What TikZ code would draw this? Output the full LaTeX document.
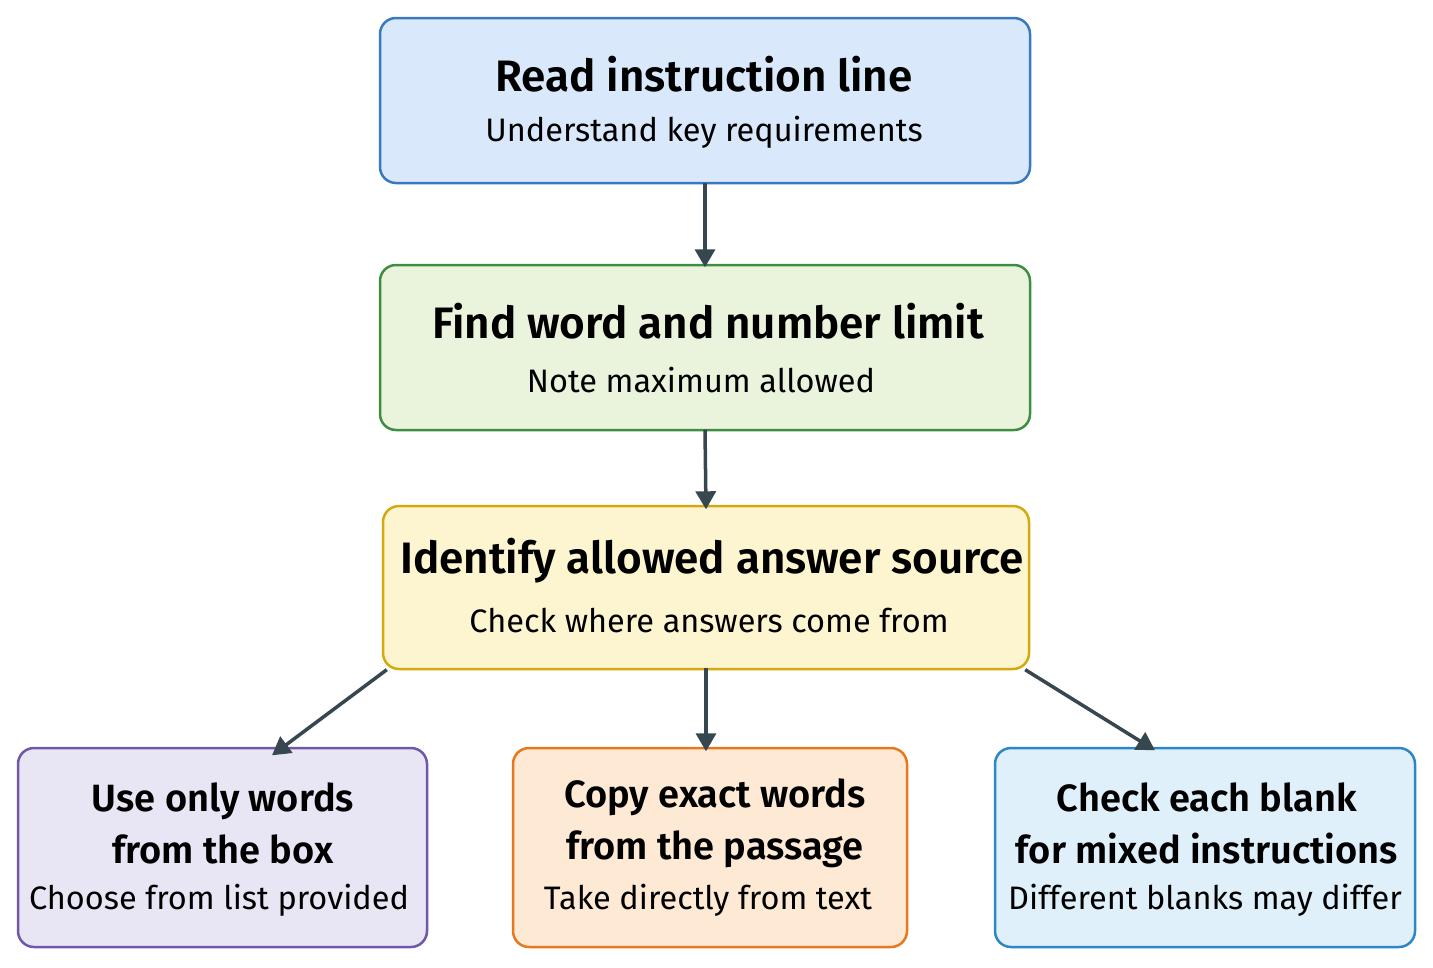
\documentclass[tikz,border=0pt]{standalone}
\usepackage{fontspec}
\setmainfont{Fira Sans}[BoldFont={Fira Sans SemiBold}]
\usetikzlibrary{arrows.meta}
\definecolor{arr}{HTML}{37474F}
\begin{document}
\begin{tikzpicture}[x=1pt,y=-1pt,
box/.style={draw,line width=2.5pt,rounded corners=16pt,inner sep=0pt},
ttl/.style={font=\fontsize{44}{50}\selectfont\bfseries,align=center},
ttlb/.style={font=\fontsize{38}{52}\selectfont\bfseries,align=center},
sub/.style={font=\fontsize{32.5}{36}\selectfont},
ar/.style={draw=arr,line width=3.5pt,-{Triangle[length=18pt,width=20pt]}}]
\useasboundingbox (0,0) rectangle (1433,967);
\definecolor{f1}{HTML}{D9E9FB}\definecolor{d1}{HTML}{3A78C0}
\definecolor{f2}{HTML}{EAF4DD}\definecolor{d2}{HTML}{3E8E41}
\definecolor{f3}{HTML}{FDF5D0}\definecolor{d3}{HTML}{D4A90D}
\definecolor{f4}{HTML}{E8E5F5}\definecolor{d4}{HTML}{7057A8}
\definecolor{f5}{HTML}{FDE9D4}\definecolor{d5}{HTML}{E8781E}
\definecolor{f6}{HTML}{E0F0FB}\definecolor{d6}{HTML}{2D86C6}
\draw[box,fill=f1,draw=d1] (380,18) rectangle (1030,183);
\node (n1) at (705,100) [minimum width=650pt,minimum height=165pt] {};
\draw[box,fill=f2,draw=d2] (380,265) rectangle (1030,430);
\node (n2) at (705,347) [minimum width=650pt,minimum height=165pt] {};
\draw[box,fill=f3,draw=d3] (383,506) rectangle (1029,669);
\node (n3) at (706,587) [minimum width=646pt,minimum height=163pt] {};
\draw[box,fill=f4,draw=d4] (18,748) rectangle (427,947);
\node (n4) at (222,847) [minimum width=409pt,minimum height=199pt] {};
\draw[box,fill=f5,draw=d5] (513,748) rectangle (907,947);
\node (n5) at (710,847) [minimum width=394pt,minimum height=199pt] {};
\draw[box,fill=f6,draw=d6] (995,748) rectangle (1415,947);
\node (n6) at (1205,847) [minimum width=420pt,minimum height=199pt] {};

\node[ttl] (t1) at (704,74) {Read instruction line};
\node[sub] (s1) at (704,132) {Understand key requirements};
\node[ttl] (t2) at (708,321) {Find word and number limit};
\node[sub] (s2) at (701,380) {Note maximum allowed};
\node[ttl] (t3) at (712,561) {Identify allowed answer source};
\node[sub] (s3) at (709,620) {Check where answers come from};
\node[ttlb] (t4) at (223,823) {Use only words\\from the box};
\node[sub] (s4) at (219,900) {Choose from list provided};
\node[ttlb] (t5) at (715,823) {Copy exact words\\from the passage};
\node[sub] (s5) at (708,900) {Take directly from text};
\node[ttlb] (t6) at (1207,823) {Check each blank\\for mixed instructions};
\node[sub] (s6) at (1205,900) {Different blanks may differ};

\draw[ar] (n1.south) -- ([yshift=-3pt]n2.north);
\draw[ar] (n2.south) -- ([yshift=-4pt]n3.north);
\draw[ar] ([xshift=4pt,yshift=-1pt]n3.south west) -- ([xshift=50pt,yshift=-8pt]n4.north);
\draw[ar] ([yshift=1pt]n3.south) -- ([xshift=-4pt,yshift=-4pt]n5.north);
\draw[ar] ([xshift=-4pt,yshift=-1pt]n3.south east) -- ([xshift=-50pt,yshift=-3pt]n6.north);
\end{tikzpicture}
\end{document}
